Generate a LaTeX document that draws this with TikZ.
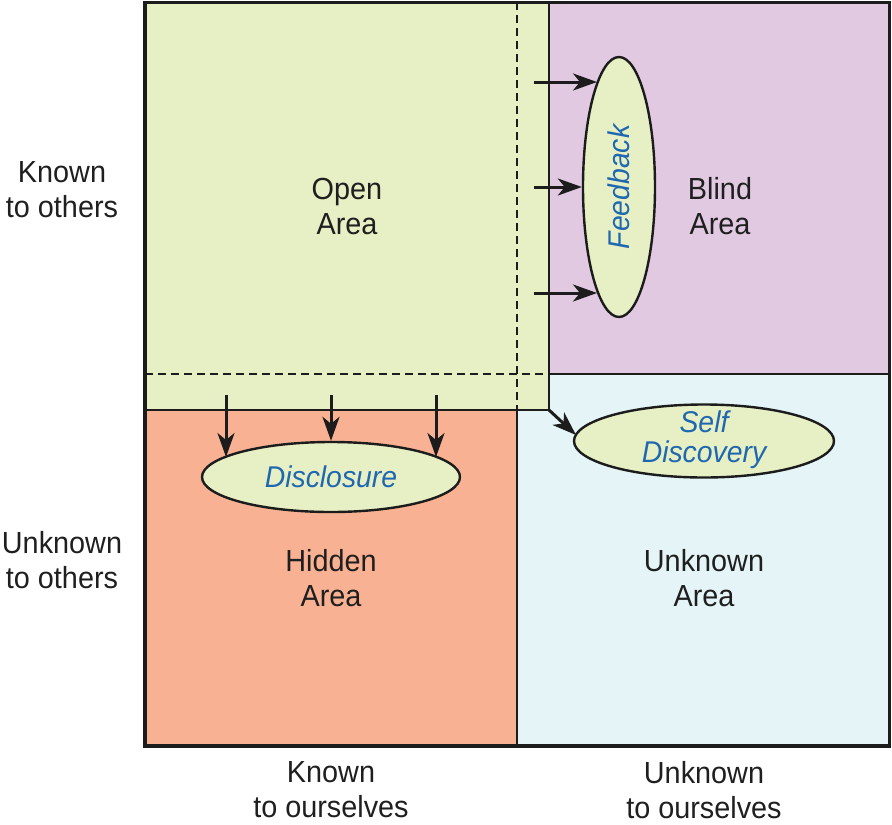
\documentclass[tikz,border=0pt]{standalone}
\usepackage{fontspec}
\setmainfont{Liberation Sans}[FakeStretch=0.945]
\usetikzlibrary{shapes.geometric,arrows.meta}
\definecolor{opengreen}{HTML}{E7EFC5}
\definecolor{blindpurple}{HTML}{E1C9E2}
\definecolor{hidsalmon}{HTML}{F8B293}
\definecolor{unkblue}{HTML}{E5F4F6}
\definecolor{textblue}{HTML}{1F68B0}
\definecolor{inkline}{HTML}{1C1C1C}
\begin{document}
\begin{tikzpicture}[x=1pt,y=-1pt,
  lbl/.style={align=center, font=\fontsize{30.5}{35}\selectfont, text=black!88, inner sep=0},
  bubble/.style={ellipse, draw=inkline, line width=2.4pt, fill=opengreen, inner sep=0},
  bubbletext/.style={align=center, inner sep=0, text=textblue, font=\fontsize{30}{30}\selectfont\itshape},
  arr/.style={line width=3pt, draw=inkline, -{Stealth[length=24pt,width=17pt,inset=7pt]}},
  dashline/.style={draw=inkline, line width=2.2pt, dash pattern=on 8pt off 5pt},
  solidline/.style={draw=inkline, line width=2.4pt}
]
\useasboundingbox (0,0) rectangle (892,825);

% quadrants
\fill[unkblue] (517,374) rectangle (890,747);
\fill[hidsalmon] (145,410) rectangle (517,747);
\fill[blindpurple] (549,2) rectangle (890,374);
\fill[opengreen] (145,2) rectangle (549,410);

\draw[solidline] (549,2) -- (549,410) -- (145,410);
\draw[solidline] (517,410) -- (517,747);
\draw[solidline] (549,374) -- (890,374);
\draw[dashline] (517,2) -- (517,410);
\draw[dashline] (145,374) -- (549,374);
\draw[draw=inkline, line width=3.4pt] (145,2.5) rectangle (889.5,746);

% area labels
\node[lbl] (open) at (347,206) {Open\\Area};
\node[lbl] (blind) at (720,206) {Blind\\Area};
\node[lbl] (hidden) at (331,578) {Hidden\\Area};
\node[lbl] (unknown) at (704,578) {Unknown\\Area};
\node[lbl] (kno) at (62,190) {Known\\to others};
\node[lbl] (uno) at (62,560) {Unknown\\to others};
\node[lbl] (kos) at (331,790) {Known\\to ourselves};
\node[lbl] (uos) at (704,790) {Unknown\\to ourselves};

% bubbles
\node[bubble, minimum width=72pt, minimum height=260pt] (fb) at (619,187) {};
\node[bubbletext] (fbt) at (fb) {\rotatebox{90}{Feedback}};
\node[bubble, minimum width=258pt, minimum height=70pt] (dc) at (331,477) {};
\node[bubbletext] (dct) at (dc) {Disclosure};
\node[bubble, minimum width=260pt, minimum height=73pt] (sd) at (704,441) {};
\node[bubbletext] (sdt) at (704,440) {Self\\Discovery};

% feedback arrows
\coordinate (f1s) at (534,82);  \coordinate (f1e) at (597,82);
\coordinate (f2s) at (534,187); \coordinate (f2e) at (fb.west);
\coordinate (f3s) at (534,293); \coordinate (f3e) at (597,293);
\draw[arr] (f1s) -- (f1e);
\draw[arr] (f2s) -- (f2e);
\draw[arr] (f3s) -- (f3e);

% disclosure arrows
\coordinate (d1s) at (226,395); \coordinate (d1e) at (226,457);
\coordinate (d2s) at (331,395); \coordinate (d2e) at (dc.north);
\coordinate (d3s) at (436,395); \coordinate (d3e) at (436,457);
\draw[arr] (d1s) -- (d1e);
\draw[arr] (d2s) -- (d2e);
\draw[arr] (d3s) -- (d3e);

% self discovery arrow
\coordinate (corner) at (549,410);
\coordinate (sde) at (576,435);
\draw[arr] (corner) -- (sde);
\end{tikzpicture}
\end{document}
